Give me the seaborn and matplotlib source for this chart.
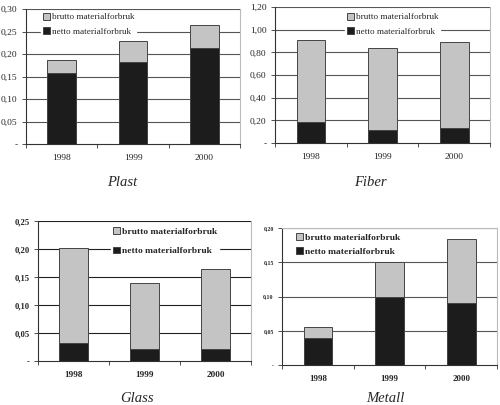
import matplotlib
matplotlib.use("Agg")
import matplotlib.pyplot as plt
import seaborn as sns
import pandas as pd
from matplotlib.ticker import FixedLocator

sns.set_style("white")
plt.rcParams['font.family'] = ['Liberation Serif', 'DejaVu Serif']

years = ["1998", "1999", "2000"]
series_names = ["brutto materialforbruk", "netto materialforbruk"]

plast_brutto = [0.186, 0.230, 0.264]
plast_netto = [0.158, 0.182, 0.214]
fiber_brutto = [0.909, 0.835, 0.894]
fiber_netto = [0.182, 0.118, 0.132]
glass_brutto = [0.201, 0.139, 0.164]
glass_netto = [0.0315, 0.021, 0.022]
metall_brutto = [0.055, 0.151, 0.184]
metall_netto = [0.039, 0.099, 0.091]

titles = ["Plast", "Fiber", "Glass", "Metall"]
plast_yticks = [0, 0.05, 0.10, 0.15, 0.20, 0.25, 0.30]
plast_ylabels = ["-", "0,05", "0,10", "0,15", "0,20", "0,25", "0,30"]
fiber_yticks = [0, 0.2, 0.4, 0.6, 0.8, 1.0, 1.2]
fiber_ylabels = ["-", "0,20", "0,40", "0,60", "0,80", "1,00", "1,20"]
glass_yticks = [0, 0.05, 0.10, 0.15, 0.20, 0.25]
glass_ylabels = ["-", "0,05", "0,10", "0,15", "0,20", "0,25"]
metall_yticks = [0, 0.05, 0.10, 0.15, 0.20]
metall_ylabels = ["-", "0,05", "0,10", "0,15", "0,20"]

W, H = 500, 405
fig = plt.figure(figsize=(5.0, 4.05), dpi=100)

def px_axes(l, r, t, b):
    return fig.add_axes([l / W, 1 - b / H, (r - l) / W, (b - t) / H])

GRAY = "#c4c4c4"
BLACK = "#1c1c1c"

panels = [
    dict(box=(26, 240, 9, 144), brutto=plast_brutto, netto=plast_netto,
         yt=plast_yticks, yl=plast_ylabels, bold=False, ysize=6.8, xsize=6.8,
         lsize=6.6, leg=(41, 11), lsp=0.65, title=(122, 182), top=False, grid="#555555"),
    dict(box=(275, 490, 7, 143), brutto=fiber_brutto, netto=fiber_netto,
         yt=fiber_yticks, yl=fiber_ylabels, bold=False, ysize=6.8, xsize=6.8,
         lsize=6.6, leg=(345, 11), lsp=0.65, title=(370, 182), top=False, grid="#555555"),
    dict(box=(38, 251, 221, 361), brutto=glass_brutto, netto=glass_netto,
         yt=glass_yticks, yl=glass_ylabels, bold=True, ysize=6.2, xsize=6.6,
         lsize=6.8, leg=(111, 225), lsp=1.15, title=(137, 398), top=False, grid="#222222"),
    dict(box=(282, 497, 228, 365), brutto=metall_brutto, netto=metall_netto,
         yt=metall_yticks, yl=metall_ylabels, bold=True, ysize=4.2, xsize=6.4,
         lsize=6.8, leg=(294, 231), lsp=0.6, title=(385, 399), top=True, grid="#555555"),
]

for name, p in zip(titles, panels):
    ax = px_axes(*p["box"])
    df_b = pd.DataFrame({"year": years, "value": p["brutto"]})
    df_n = pd.DataFrame({"year": years, "value": p["netto"]})
    sns.barplot(data=df_b, x="year", y="value", color=GRAY, width=0.4,
                edgecolor="#444444", linewidth=0.7, saturation=1, ax=ax,
                label=series_names[0], zorder=3)
    sns.barplot(data=df_n, x="year", y="value", color=BLACK, width=0.4,
                edgecolor="#444444", linewidth=0.7, saturation=1, ax=ax,
                label=series_names[1], zorder=3)
    ax.set_xlim(-0.5, 2.5)
    ax.set_ylim(p["yt"][0], p["yt"][-1])
    ax.set_xlabel("")
    ax.set_ylabel("")
    weight = "bold" if p["bold"] else "normal"
    ax.set_yticks(p["yt"])
    ax.set_yticklabels(p["yl"], fontsize=p["ysize"], fontweight=weight)
    ax.set_xticks(range(len(years)))
    ax.set_xticklabels(years, fontsize=p["xsize"], fontweight=weight)
    ax.xaxis.set_minor_locator(FixedLocator([-0.5, 0.5, 1.5, 2.5]))
    ax.tick_params(axis="x", which="major", length=0, pad=7)
    ax.tick_params(axis="x", which="minor", length=3, width=0.6, color="#333333", direction="out", bottom=True)
    ax.tick_params(axis="y", length=3, width=0.6, color="#333333", direction="out", pad=3, left=True)
    for yv in p["yt"][1:]:
        ax.axhline(yv, color=p["grid"], linewidth=0.8, zorder=1)
    ax.grid(False)
    ax.spines["left"].set_color("#333333")
    ax.spines["bottom"].set_color("#333333")
    ax.spines["left"].set_linewidth(0.8)
    ax.spines["bottom"].set_linewidth(0.8)
    ax.spines["right"].set_color("#bbbbbb")
    ax.spines["right"].set_linewidth(0.8)
    ax.spines["top"].set_visible(p["top"])
    ax.spines["top"].set_color("#bbbbbb")
    handles, labels = ax.get_legend_handles_labels()
    lx, ly = p["leg"]
    leg = ax.legend(handles, labels, loc="upper left",
                    bbox_to_anchor=(lx / W, 1 - ly / H), bbox_transform=fig.transFigure,
                    frameon=True, fancybox=False, framealpha=1, edgecolor="white",
                    facecolor="white", handlelength=0.75, handleheight=0.75,
                    handletextpad=0.2, labelspacing=p["lsp"], borderpad=0.2,
                    borderaxespad=0,
                    prop={"size": p["lsize"], "weight": weight, "family": "Liberation Serif"})
    leg.set_zorder(5)
    tx, ty = p["title"]
    fig.text(tx / W, 1 - ty / H, name, ha="center", va="center",
             fontsize=10.5, style="italic")

fig.savefig("out.png", dpi=100)
